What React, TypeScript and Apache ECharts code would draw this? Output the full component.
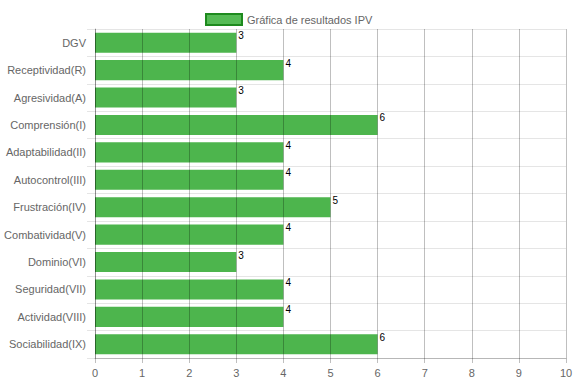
import React, { useEffect, useRef } from "react";
import * as echarts from "echarts";

const categories = [
  "DGV",
  "Receptividad(R)",
  "Agresividad(A)",
  "Comprensión(I)",
  "Adaptabilidad(II)",
  "Autocontrol(III)",
  "Frustración(IV)",
  "Combatividad(V)",
  "Dominio(VI)",
  "Seguridad(VII)",
  "Actividad(VIII)",
  "Sociabilidad(IX)",
];
const values = [3, 4, 3, 6, 4, 4, 5, 4, 3, 4, 4, 6];
const seriesName = "Gráfica de resultados IPV";

export default function App() {
  const ref = useRef<HTMLDivElement>(null);
  useEffect(() => {
    document.body.style.margin = "0";
    if (!ref.current) return;
    const chart = echarts.init(ref.current, null, { renderer: "svg" });
    const font = "Liberation Sans";
    chart.setOption({
      animation: false,
      textStyle: { fontFamily: font },
      legend: {
        top: 8,
        left: 200,
        itemWidth: 36,
        itemHeight: 11,
        icon: "rect",
        data: [
          {
            name: seriesName,
            itemStyle: { color: "#55bb55", borderColor: "#1e8a1e", borderWidth: 2 },
          },
        ],
        textStyle: { color: "#666", fontSize: 11, fontFamily: font },
      },
      grid: {
        left: 95,
        right: 8,
        top: 29,
        bottom: 25,
        containLabel: false,
        outerBoundsMode: "none",
      },
      xAxis: {
        type: "value",
        min: 0,
        max: 10,
        interval: 1,
        z: 3,
        axisLine: { show: true, lineStyle: { color: "rgba(0,0,0,0.2)" } },
        axisTick: { show: true, length: 5, lineStyle: { color: "rgba(0,0,0,0.25)" } },
        splitLine: { show: true, lineStyle: { color: "rgba(0,0,0,0.25)" } },
        axisLabel: { color: "#666", fontSize: 11, margin: 9, fontFamily: font },
      },
      yAxis: {
        type: "category",
        inverse: true,
        data: categories,
        z: 3,
        axisLine: { show: true, lineStyle: { color: "rgba(0,0,0,0.25)" } },
        axisTick: { show: true, length: 8, lineStyle: { color: "rgba(0,0,0,0.1)" } },
        splitLine: { show: true, lineStyle: { color: "rgba(0,0,0,0.1)" } },
        axisLabel: { color: "#666", fontSize: 11, margin: 9, fontFamily: font },
      },
      series: [
        {
          name: seriesName,
          type: "bar",
          data: values,
          barCategoryGap: "27%",
          itemStyle: { color: "#4db54d" },
          label: {
            show: true,
            position: ["100%", 0],
            offset: [2, -2],
            align: "left",
            verticalAlign: "top",
            color: "#000",
            fontSize: 10,
            fontFamily: font,
          },
        },
      ],
    });
    return () => chart.dispose();
  }, []);
  return <div ref={ref} style={{ width: 574, height: 383 }} />;
}
